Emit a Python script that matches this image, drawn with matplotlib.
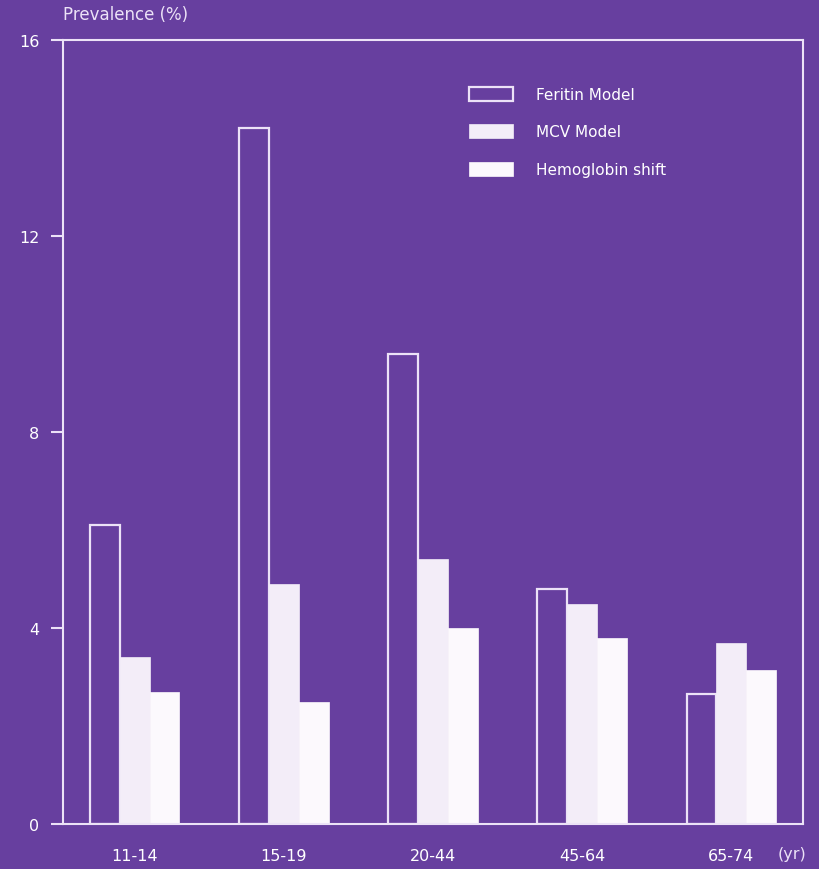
import matplotlib.pyplot as plt
import numpy as np

# Datos
age_groups = ['11-14', '15-19', '20-44', '45-64', '65-74']
ferritin_model = [6.1, 14.2, 9.6, 4.8, 2.65]
mcv_model = [3.4, 4.9, 5.4, 4.5, 3.7]
hemoglobin_shift = [2.7, 2.5, 4.0, 3.8, 3.15]
y_ticks = [0, 4, 8, 12, 16]

bg = '#673f9f'
fg = '#ece2f7'

fig = plt.figure(figsize=(8.2, 8.7), dpi=100, facecolor=bg)
ax = fig.add_axes([63 / 820, 1 - 825 / 870, 740 / 820, 784 / 870], facecolor=bg)

x = np.arange(len(age_groups))
w = 0.2

ax.bar(x - w, ferritin_model, w, facecolor=bg, edgecolor=fg, linewidth=1.6, label='Feritin Model')
ax.bar(x, mcv_model, w, facecolor='#f3edf8', edgecolor='#f3edf8', linewidth=0.5, label='MCV Model')
ax.bar(x + w, hemoglobin_shift, w, facecolor='#fcf9fd', edgecolor='#fcf9fd', linewidth=0.5, label='Hemoglobin shift')

ax.set_xlim(-0.48, 4.48)
ax.set_ylim(0, 16)
ax.set_yticks(y_ticks)
ax.set_xticks(x)
ax.set_xticklabels(age_groups)

for s in ax.spines.values():
    s.set_color(fg)
    s.set_linewidth(1.5)

ax.tick_params(axis='y', colors=fg, labelcolor='white', labelsize=11.5, length=9, width=1.5, pad=8)
ax.tick_params(axis='x', length=0, labelcolor='white', labelsize=11.5, pad=17)

ax.text(-0.48, 16.35, 'Prevalence (%)', color=fg, fontsize=12, ha='left', va='bottom')
ax.text(4.5, -0.45, '(yr)', color=fg, fontsize=11.5, ha='right', va='top')

leg = ax.legend(loc='upper left', bbox_to_anchor=(0.53, 0.958), frameon=False,
                fontsize=11, labelcolor='white', handlelength=2.9, handleheight=1.05,
                labelspacing=1.45, handletextpad=1.5)

fig.savefig('out.png', dpi=100, facecolor=bg)
